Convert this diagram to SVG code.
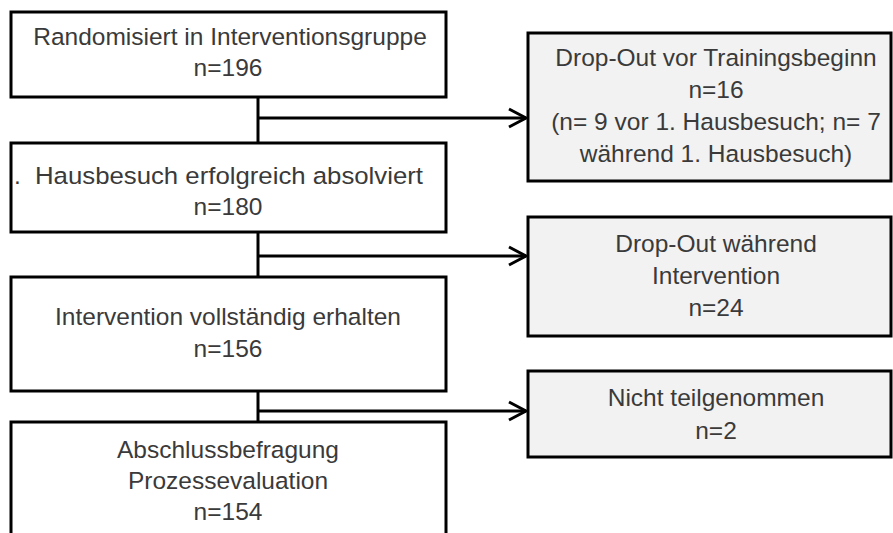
<svg xmlns="http://www.w3.org/2000/svg" width="893" height="533" viewBox="0 0 893 533">
  <style>
    .box { fill: #ffffff; stroke: #000000; stroke-width: 3; }
    .drop { fill: #f2f2f2; stroke: #000000; stroke-width: 3; }
    .t { font-family: "Liberation Sans", Arial, sans-serif; font-size: 24.5px; fill: #3a3a3a; text-anchor: middle; }
    .conn { fill: none; stroke: #000000; stroke-width: 3; }
  </style>
  <defs>
    <marker id="arrow" markerUnits="userSpaceOnUse" markerWidth="24" markerHeight="24" viewBox="-20 -12 24 24" refX="0" refY="0" orient="auto">
      <path d="M-17,-9 L0,0 L-17,9" fill="none" stroke="#000000" stroke-width="3"/>
    </marker>
  </defs>
  <rect width="893" height="533" fill="#ffffff"/>

  <g id="connectors">
    <line class="conn" x1="258" y1="97" x2="258" y2="143"/>
    <line class="conn" x1="258" y1="232" x2="258" y2="277"/>
    <line class="conn" x1="258" y1="391" x2="258" y2="422"/>
    <line class="conn" x1="258" y1="118" x2="526" y2="118" marker-end="url(#arrow)"/>
    <line class="conn" x1="258" y1="256" x2="526" y2="256" marker-end="url(#arrow)"/>
    <line class="conn" x1="258" y1="411" x2="526" y2="411" marker-end="url(#arrow)"/>
  </g>

  <g id="randomisiert">
    <rect class="box" x="11" y="12" width="435" height="85"/>
    <text class="t" x="230" y="45">Randomisiert in Interventionsgruppe</text>
    <text class="t" x="228" y="76">n=196</text>
  </g>

  <g id="hausbesuch">
    <rect class="box" x="11" y="143" width="435" height="89"/>
    <text class="t" x="14" y="184" style="text-anchor:start">.<tspan x="35" textLength="388" lengthAdjust="spacingAndGlyphs">Hausbesuch erfolgreich absolviert</tspan></text>
    <text class="t" x="228" y="215">n=180</text>
  </g>

  <g id="intervention">
    <rect class="box" x="11" y="277" width="435" height="114"/>
    <text class="t" x="228" y="325">Intervention vollständig erhalten</text>
    <text class="t" x="228" y="357">n=156</text>
  </g>

  <g id="abschluss">
    <rect class="box" x="11" y="422" width="435" height="130"/>
    <text class="t" x="228" y="458">Abschlussbefragung</text>
    <text class="t" x="228" y="489">Prozessevaluation</text>
    <text class="t" x="228" y="520">n=154</text>
  </g>

  <g id="dropout-vor">
    <rect class="drop" x="528" y="33" width="363" height="148"/>
    <text class="t" x="716" y="66">Drop-Out vor Trainingsbeginn</text>
    <text class="t" x="716" y="98">n=16</text>
    <text class="t" x="716" y="130">(n= 9 vor 1. Hausbesuch; n= 7</text>
    <text class="t" x="716" y="162">während 1. Hausbesuch)</text>
  </g>

  <g id="dropout-waehrend">
    <rect class="drop" x="528" y="217" width="363" height="119"/>
    <text class="t" x="716" y="252">Drop-Out während</text>
    <text class="t" x="716" y="284">Intervention</text>
    <text class="t" x="716" y="316">n=24</text>
  </g>

  <g id="nicht-teilgenommen">
    <rect class="drop" x="528" y="371" width="363" height="86"/>
    <text class="t" x="716" y="406">Nicht teilgenommen</text>
    <text class="t" x="716" y="439">n=2</text>
  </g>
</svg>
